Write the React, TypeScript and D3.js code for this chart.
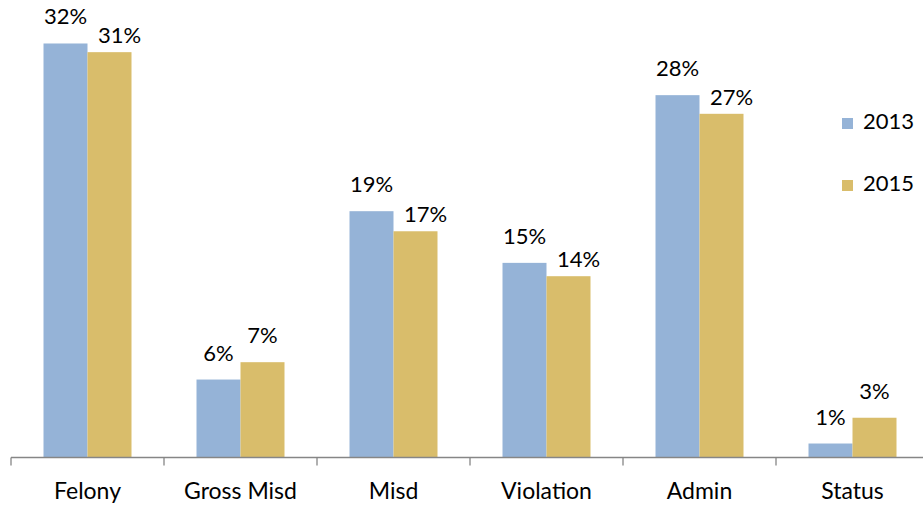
import React from "react";
import * as d3 from "d3";

const categories = ["Felony", "Gross Misd", "Misd", "Violation", "Admin", "Status"];
const seriesNames = ["2013", "2015"];
const values2013 = [31.97, 6.02, 19.02, 15.03, 27.98, 1.08];
const values2015 = [31.3, 7.36, 17.47, 14.0, 26.54, 3.07];
const colors = ["#95B3D7", "#D9BD6B"];

const W = 923;
const H = 505;
const FONT = "Lato, 'Open Sans', sans-serif";

export default function App() {
  const axisY = 457.5;
  const x0 = d3.scaleBand<string>().domain(categories).range([11, 929]).padding(0);
  const step = x0.step();
  const groupW = 88;
  const x1 = d3
    .scaleBand<string>()
    .domain(seriesNames)
    .range([(step - groupW) / 2, (step + groupW) / 2])
    .padding(0);
  const y = d3.scaleLinear().domain([0, 32]).range([axisY, axisY - 32 * 12.95]);
  const series = [values2013, values2015];
  const fmt = (v: number) => `${Math.round(v)}%`;
  const gap = 19;

  const ticks = d3.range(categories.length + 1).map((i) => 11 + i * step);

  return (
    <div style={{ position: "absolute", left: 0, top: 0, width: W, height: H, overflow: "hidden" }}>
      <svg width={W} height={H} style={{ display: "block", background: "#fff" }}>
        {categories.map((c, ci) => {
          const bx = x0(c)!;
          const blueTop = y(values2013[ci]);
          const goldTop = y(values2015[ci]);
          const blueBase = blueTop - gap;
          let goldBase = goldTop - gap;
          let goldDx = 0;
          const overlap = goldBase > blueBase && goldBase - blueBase < 30;
          if (overlap) {
            goldDx = 10;
            goldBase = goldTop - 9;
          }
          return (
            <g key={c}>
              {series.map((vals, si) => (
                <rect
                  key={si}
                  x={bx + x1(seriesNames[si])!}
                  y={y(vals[ci])}
                  width={x1.bandwidth()}
                  height={axisY - y(vals[ci])}
                  fill={colors[si]}
                />
              ))}
              <text
                x={bx + x1(seriesNames[0])! + x1.bandwidth() / 2}
                y={blueBase}
                textAnchor="middle"
                fontFamily={FONT}
                fontSize={22}
                fill="#000"
              >
                {fmt(values2013[ci])}
              </text>
              <text
                x={bx + x1(seriesNames[1])! + x1.bandwidth() / 2 + goldDx}
                y={goldBase}
                textAnchor="middle"
                fontFamily={FONT}
                fontSize={22}
                fill="#000"
              >
                {fmt(values2015[ci])}
              </text>
              <text
                x={bx + step / 2}
                y={498.5}
                textAnchor="middle"
                fontFamily={FONT}
                fontSize={23}
                fill="#000"
              >
                {c}
              </text>
            </g>
          );
        })}
        <line x1={11} x2={W} y1={axisY} y2={axisY} stroke="#868686" strokeWidth={1.3} />
        {ticks.map((t, i) => (
          <line key={i} x1={t} x2={t} y1={axisY} y2={axisY + 8} stroke="#868686" strokeWidth={1.3} />
        ))}
        {seriesNames.map((s, i) => (
          <g key={s} transform={`translate(842, ${118 + i * 62})`}>
            <rect x={0} y={0} width={11} height={11} fill={colors[i]} />
            <text x={21} y={11} fontFamily={FONT} fontSize={22} fill="#000">
              {s}
            </text>
          </g>
        ))}
      </svg>
    </div>
  );
}
